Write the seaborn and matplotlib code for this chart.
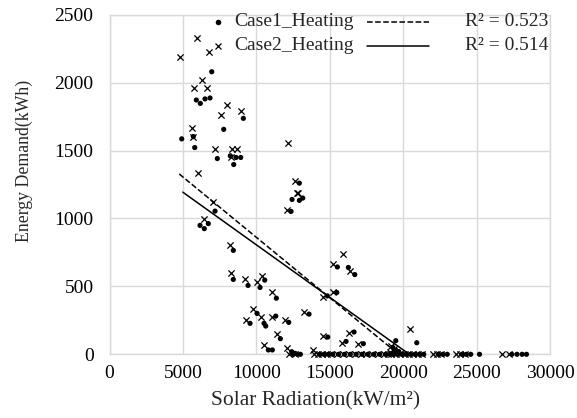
import numpy as np
import pandas as pd
import matplotlib
matplotlib.use("Agg")
import matplotlib.pyplot as plt
from matplotlib.lines import Line2D
import seaborn as sns

# ---- data ----
case1_x = [6962, 5913, 6185, 6505, 6846, 9114, 7779, 5709, 4918, 5804, 7343, 8229, 8617, 8937,
           8460, 7187, 12930, 12432, 12930, 13160, 12364, 6165, 6458, 6730, 8433, 8433, 9435,
           10252, 10572, 11363, 10048, 11322, 9571, 10525, 10640, 12207, 11635, 10818, 11090,
           12410, 12636, 15518, 16267, 16703, 15480, 14837, 13590, 14864, 16655, 16110, 17289,
           19496, 20926, 19300, 19500, 19700, 19400]
case1_y = [2080, 1872, 1847, 1880, 1887, 1737, 1656, 1603, 1586, 1522, 1441, 1461, 1449, 1449,
           1397, 1054, 1260, 1140, 1133, 1150, 1052, 949, 925, 962, 765, 551, 507,
           492, 546, 413, 301, 281, 228, 228, 208, 235, 115, 32, 32,
           19, 7, 643, 639, 587, 455, 430, 296, 127, 164, 95, 78,
           100, 85, 50, 30, 20, 10]
# Case1 points lying on the zero line (x positions)
case1_zero_x = [12500, 12800, 13000, 14300, 14600, 14900, 15200, 15600, 16000, 16400, 16800,
                17200, 17600, 18000, 18400, 18800, 19100, 19300, 19600, 19900, 20200, 20500,
                20800, 21100, 21400, 22400, 22700, 23000, 24000, 24300, 24600, 25200, 27400,
                27750, 28100, 28400]

case2_x = [5981, 6778, 4802, 6322, 5777, 6662, 8025, 7595, 8937, 5600, 5709, 7187, 8365, 8706,
           8277, 6049, 12139, 7071, 12636, 12750, 12860, 12071, 6458, 8208, 8277, 9251, 10027,
           10409, 11049, 9796, 10341, 11090, 9278, 11955, 11390, 10545, 12112, 15926, 15245,
           16383, 15245, 14564, 13249, 14564, 16315, 15817, 16948, 13883, 20470, 19200, 19400,
           19100]
case2_y = [2332, 2222, 2190, 2019, 1960, 1960, 1838, 1764, 1789, 1667, 1603, 1510, 1510, 1510,
           1451, 1336, 1559, 1120, 1275, 1187, 1187, 1065, 998, 802, 599, 551, 533,
           577, 455, 330, 276, 276, 252, 252, 149, 68, 44, 742, 663,
           612, 455, 423, 308, 137, 154, 85, 76, 32, 186, 60, 40,
           20]
# Case2 points lying on the zero line (x positions)
case2_zero_x = [12200, 12600, 13900, 14200, 14500, 14800, 15100, 15500, 15900, 16300, 16700,
                17100, 17500, 17900, 18300, 18700, 19000, 19200, 19500, 19800, 20100, 20400,
                20700, 21000, 21300, 22000, 22300, 22600, 23600, 23900, 24200, 26700, 27200]

series_labels = ["Case1_Heating", "Case2_Heating"]
r2_labels = ["R\u00b2 = 0.523", "R\u00b2 = 0.514"]
# linear trendlines (intercept, slope) and x-range
trend_intercept = [1749.6, 1579.8]
trend_slope = [-0.08885, -0.07737]
trend_x_start = [4750, 4990]
trend_x_end = [28500, 28500]

x_ticks = [0, 5000, 10000, 15000, 20000, 25000, 30000]
y_ticks = [0, 500, 1000, 1500, 2000, 2500]

# ---- assemble ----
c1x = case1_x + case1_zero_x
c1y = case1_y + [0] * len(case1_zero_x)
c2x = case2_x + case2_zero_x
c2y = case2_y + [0] * len(case2_zero_x)

# ---- plotting ----
sns.set_style("white")
plt.rcParams["font.family"] = ["Liberation Serif", "DejaVu Serif"]

W, H = 577, 418
fig = plt.figure(figsize=(W / 100, H / 100), dpi=100)
ax = fig.add_axes([109.5 / W, 1 - 354.3 / H, (550 - 109.5) / W, (354.3 - 14.7) / H])

sns.scatterplot(x=c1x, y=c1y, marker="o", color="black", s=14,
                edgecolor="none", ax=ax, zorder=3, clip_on=False)
sns.scatterplot(x=c2x, y=c2y, marker="x", color="black", s=20,
                linewidth=0.9, ax=ax, zorder=3, clip_on=False)

styles = ["--", "-"]
for i in range(2):
    xs = np.array([trend_x_start[i], trend_x_end[i]])
    ys = trend_intercept[i] + trend_slope[i] * xs
    df = pd.DataFrame({"x": xs, "y": ys})
    sns.lineplot(data=df, x="x", y="y", color="black", linewidth=1.1,
                 linestyle=styles[i], ax=ax, zorder=2)

ax.set_xlim(0, 30000)
ax.set_ylim(0, 2500)
ax.set_xticks(x_ticks)
ax.set_yticks(y_ticks)
ax.grid(True, color="#d9d9d9", linewidth=1.0)
ax.set_axisbelow(True)
for sp in ax.spines.values():
    sp.set_color("#d9d9d9")
    sp.set_linewidth(1.0)
ax.tick_params(axis="both", length=0, labelsize=14, colors="black")
ax.tick_params(axis="y", pad=11.5)
ax.tick_params(axis="x", pad=8)
ax.set_xlabel("Solar Radiation(kW/m\u00b2)", fontsize=15.5, labelpad=6)
ax.xaxis.set_label_coords((316 - 109.5) / 440.5, -(401 - 354.3) / 339.6)
ax.xaxis.label.set_va("center")
ax.set_ylabel("Energy Demand(kWh)", fontsize=12.8)
ax.yaxis.set_label_coords(-(109.5 - 24) / 440.5, (354.3 - 161) / 339.6)
ax.yaxis.label.set_va("center")

# ---- legend (Excel-style, no frame) ----
rows_y = [22, 46]
markers = [dict(marker="o", markersize=4, markerfacecolor="black", markeredgecolor="none"),
           dict(marker="x", markersize=5, markeredgecolor="black", markeredgewidth=0.9)]
for i in range(2):
    yf = 1 - rows_y[i] / H
    fig.add_artist(Line2D([218 / W], [yf], linestyle="none", transform=fig.transFigure,
                          **markers[i]))
    fig.text(234 / W, yf, series_labels[i], fontsize=14, va="center", ha="left")
    fig.add_artist(Line2D([367 / W, 429 / W], [yf, yf], color="black", linewidth=1.1,
                          linestyle=styles[i], transform=fig.transFigure))
    fig.text(548 / W, yf, r2_labels[i], fontsize=14, va="center", ha="right")

fig.savefig("out.png", dpi=100)
